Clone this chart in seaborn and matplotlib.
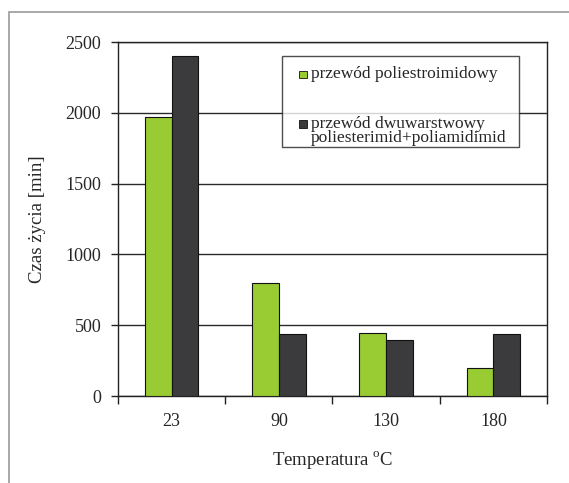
import matplotlib
matplotlib.use("Agg")
import matplotlib.pyplot as plt
from matplotlib.patches import Rectangle
from matplotlib.legend_handler import HandlerPatch
from matplotlib.ticker import FixedLocator, NullFormatter
import pandas as pd
import seaborn as sns

# Lifetime of winding wires at different temperatures
temperatures = ["23", "90", "130", "180"]
single_layer = [1970, 795, 445, 195]
double_layer = [2400, 440, 395, 440]
series_names = ["przewód poliestroimidowy",
                "przewód dwuwarstwowy\npoliesterimid+poliamidimid"]
series_colors = ["#99CC33", "#3B3B3D"]
y_ticks = [0, 500, 1000, 1500, 2000, 2500]

df = pd.DataFrame({
    "Temperatura": temperatures * 2,
    "Czas": single_layer + double_layer,
    "Przewód": [series_names[0]] * 4 + [series_names[1]] * 4,
})

sns.set_theme(style="white")
plt.rcParams["font.family"] = ["Liberation Serif", "DejaVu Serif"]
plt.rcParams["mathtext.fontset"] = "custom"
plt.rcParams["mathtext.rm"] = "Liberation Serif"

fig = plt.figure(figsize=(5.69, 4.83), dpi=100)
ax = fig.add_axes([0.2074, 0.1801, 0.7539, 0.7329])

# outer frame of the chart area
fig.patches.append(Rectangle((8.5 / 569, -0.05), 1.2, 1 - 11.5 / 483 + 0.05,
                             transform=fig.transFigure, fill=False,
                             edgecolor="#999999", linewidth=1.2, zorder=0))

sns.barplot(data=df, x="Temperatura", y="Czas", hue="Przewód",
            order=temperatures, hue_order=series_names,
            palette=series_colors, width=0.5, gap=0,
            edgecolor="#111111", linewidth=0.8, saturation=1,
            errorbar=None, legend=False, ax=ax, zorder=3)

ax.set_ylim(0, 2500)
ax.set_xlim(-0.5, 3.5)
ax.set_yticks(y_ticks)
ax.yaxis.grid(True, color="#2a2a2a", linewidth=1.0)
ax.set_axisbelow(True)
for sp in ax.spines.values():
    sp.set_visible(True)
    sp.set_color("#222222")
    sp.set_linewidth(1.0)

ax.tick_params(axis="y", which="major", direction="out", length=5, width=1,
               color="#222222", labelsize=13, pad=7, left=True)
ax.tick_params(axis="x", which="major", length=0, labelsize=13, pad=12)
ax.xaxis.set_minor_locator(FixedLocator([-0.5, 0.5, 1.5, 2.5, 3.5]))
ax.xaxis.set_minor_formatter(NullFormatter())
ax.tick_params(axis="x", which="minor", direction="out", length=6, width=1,
               color="#222222", bottom=True)

ax.set_ylabel("Czas życia [min]", fontsize=13.5, labelpad=14)
ax.set_xlabel(r"Temperatura $^{\mathrm{o}}$C", fontsize=13.5, labelpad=14)

# legend keys: small squares sitting on the baseline of the first text line
KEY = 0.44      # key size in units of font size
ASC = 0.69      # ascent of the text in units of font size
DESC = 0.217    # descent of the text in units of font size

handles = [Rectangle((0, 0), 1, 1, facecolor=c, edgecolor="#111111",
                     linewidth=0.6) for c in series_colors]


def key_on_bottom_row(legend, orig_handle, xdescent, ydescent, width, height, fontsize):
    s = KEY * fontsize
    return Rectangle((-xdescent + width - s, -ydescent + DESC * fontsize), s, s)


def key_on_top_row(legend, orig_handle, xdescent, ydescent, width, height, fontsize):
    s = KEY * fontsize
    return Rectangle((-xdescent + width - s, -ydescent + height - ASC * fontsize), s, s)


leg = ax.legend(handles, series_names, loc="upper left",
                bbox_to_anchor=(0.382, 0.709, 0.553, 0.251), mode="expand",
                borderaxespad=0, fontsize=12.5, frameon=True, fancybox=False,
                shadow=False, handlelength=1.39, handleheight=1.84,
                handletextpad=0.25, labelspacing=1.94, borderpad=0.05,
                handler_map={handles[0]: HandlerPatch(patch_func=key_on_bottom_row),
                             handles[1]: HandlerPatch(patch_func=key_on_top_row)})
for t in leg.get_texts():
    t.set_linespacing(0.87)
for column in leg._legend_handle_box.get_children():
    rows = column.get_children()
    rows[0].align = "bottom"
    for row in rows[1:]:
        row.align = "top"
leg.get_frame().set_edgecolor("#222222")
leg.get_frame().set_linewidth(1.0)
leg.get_frame().set_facecolor("white")
leg.set_zorder(5)

fig.savefig("out.png", dpi=100, facecolor="white")
